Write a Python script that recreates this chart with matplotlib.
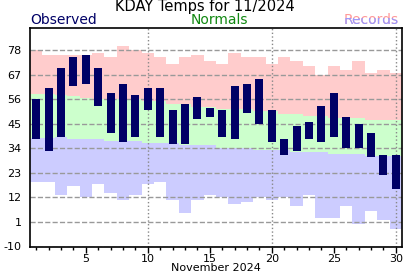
import matplotlib.pyplot as plt
from matplotlib.ticker import MultipleLocator
from matplotlib.transforms import Bbox, TransformedBbox

days = list(range(1, 31))
obs_high = [56, 61, 70, 75, 76, 70, 59, 63, 58, 61, 61, 51, 54, 57, 52,
            51, 62, 63, 65, 51, 38, 44, 46, 53, 59, 48, 45, 41, 31, 31]
obs_low = [38, 33, 39, 62, 63, 53, 41, 37, 39, 51, 39, 36, 36, 47, 48,
           39, 38, 50, 45, 37, 31, 33, 38, 37, 39, 34, 34, 30, 22, 16]
normal_high = [58.4, 58.4, 57.8, 57.3, 56.7, 56.3, 56.3, 56.3, 56.3, 55.4,
               55.4, 53.8, 53.8, 52.7, 52.7, 51.6, 51.6, 51.6, 50.7, 50.7,
               49.3, 49.3, 48.4, 48.4, 47.7, 47.7, 47.7, 46.8, 46.8, 46.8]
normal_low = [38.7, 38.7, 39.2, 38.1, 38.1, 38.1, 37.2, 37.2, 37.2, 36.5,
              36.5, 36.5, 35.5, 35.5, 35.5, 34.3, 34.3, 34.3, 33.2, 33.2,
              33.2, 32.5, 32.5, 32.5, 31.4, 31.4, 31.4, 30.7, 30.7, 30.7]
record_high = [78, 76, 76, 76, 76, 77, 75, 80, 78, 77, 75, 72, 75, 76, 73,
               72, 77, 75, 75, 72, 75, 73, 71, 67, 71, 69, 73, 68, 69, 68]
record_low = [19, 19, 13, 17, 12, 18, 14, 11, 13, 18, 19, 11, 5, 11, 13,
              12, 9, 10, 12, 11, 12, 8, 13, 3, 3, 8, 0, 6, 2, -2]
yticks = [-10, 1, 12, 23, 34, 45, 56, 67, 78]

plt.rcParams['axes.unicode_minus'] = False

W, H = 412, 276
fig = plt.figure(figsize=(W / 100, H / 100), dpi=100)
ax = fig.add_axes([30 / W, 29.5 / H, 372 / W, 218.5 / H])

# climatology bands
ax.bar(days, [r - n for r, n in zip(record_high, normal_high)], bottom=normal_high,
       width=1.0, color='#ffcccc', linewidth=0, zorder=1)
ax.bar(days, [h - l for h, l in zip(normal_high, normal_low)], bottom=normal_low,
       width=1.0, color='#ccffcc', linewidth=0, zorder=1)
ax.bar(days, [n - r for n, r in zip(normal_low, record_low)], bottom=record_low,
       width=1.0, color='#ccccff', linewidth=0, zorder=1)

# observed
ax.bar(days, [h - l for h, l in zip(obs_high, obs_low)], bottom=obs_low,
       width=0.66, color='#000066', linewidth=0, zorder=3)

for y in yticks:
    ax.axhline(y, color='#999999', linestyle='--', linewidth=1, zorder=2)
for x in [10, 20, 30]:
    ax.axvline(x, color='#888888', linestyle=':', linewidth=1, zorder=2)

ax.set_xlim(0.5, 30.5)
ax.set_ylim(-10, 88)
ax.set_yticks(yticks)
ax.set_yticklabels([str(v) for v in yticks])
ax.xaxis.set_major_locator(MultipleLocator(5))
ax.xaxis.set_minor_locator(MultipleLocator(1))
ax.tick_params(axis='y', length=0, pad=6, labelsize=8)
ax.tick_params(axis='x', which='major', length=4, width=1, pad=1.5, labelsize=8)
ax.tick_params(axis='x', which='minor', length=2.5, width=1)
ax.set_xlabel('November 2024', fontsize=8, labelpad=-1)
for s in ax.spines.values():
    s.set_linewidth(1.2)

fig.text(205 / W, 1 - 11 / H, 'KDAY Temps for 11/2024', ha='center', va='baseline', fontsize=10.5)
fig.text(30 / W, 1 - 23.5 / H, 'Observed', ha='left', va='baseline', fontsize=10, color='#000066')
fig.text(219 / W, 1 - 23.5 / H, 'Normals', ha='center', va='baseline', fontsize=10, color='#118811')
fig.text(399 / W, 1 - 23.5 / H, 'Records', ha='right', va='baseline', fontsize=10, color='#ff9999')
rec2 = fig.text(399 / W, 1 - 23.5 / H, 'Records', ha='right', va='baseline', fontsize=10, color='#9999ff')
rec2.set_clip_box(TransformedBbox(Bbox([[0, 0], [1, 1 - 18 / H]]), fig.transFigure))
rec2.set_clip_on(True)

fig.savefig('out.png', dpi=100)
